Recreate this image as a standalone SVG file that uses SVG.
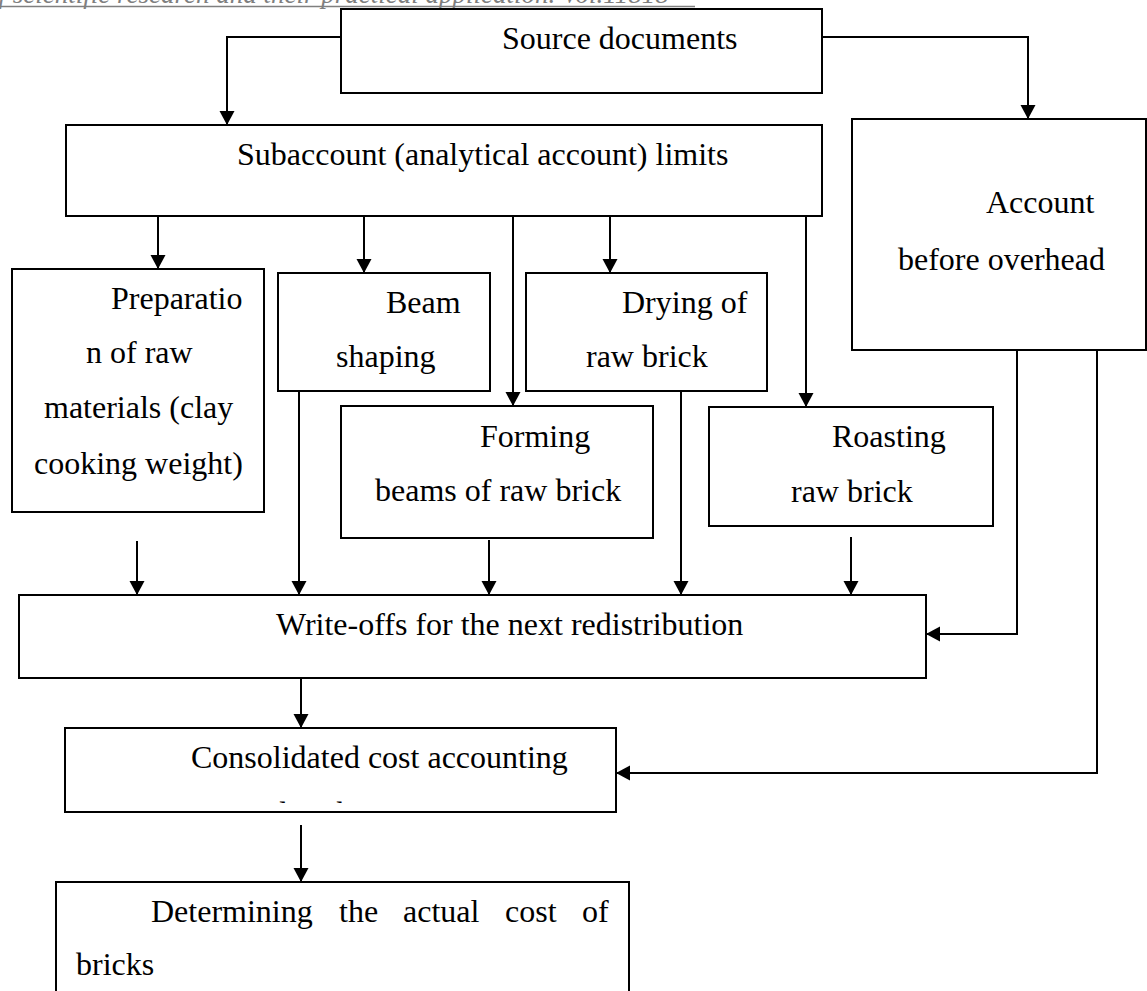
<svg xmlns="http://www.w3.org/2000/svg" width="1147" height="991" viewBox="0 0 1147 991">
<style>
.box{fill:#fff;stroke:#000;stroke-width:2}
.t{font-family:"Liberation Serif","Times New Roman",serif;font-size:32px;fill:#000}
.c{fill:none;stroke:#000;stroke-width:2}
.hdr{font-family:"Liberation Serif","Times New Roman",serif;font-style:italic;font-size:27px;fill:#7f7f7f}
</style>
<defs>
<marker id="ah" markerUnits="userSpaceOnUse" markerWidth="16" markerHeight="16" refX="14" refY="7.5" orient="auto">
<path d="M0,0 L14,7.5 L0,15 Z" fill="#000"/>
</marker>
<clipPath id="clipDist"><rect x="60" y="780" width="560" height="23"/></clipPath>
</defs>
<rect width="1147" height="991" fill="#fff"/>
<g id="header">
<text class="hdr" x="-15" y="3">of scientific research and their practical application. Vol.11818</text>
<line x1="0" y1="6.5" x2="695" y2="6.5" stroke="#7f7f7f" stroke-width="1.5"/>
</g>
<g id="connectors">
<path class="c" d="M341,37 H227 V125" marker-end="url(#ah)"/>
<path class="c" d="M822,37 H1028 V119" marker-end="url(#ah)"/>
<path class="c" d="M158,216 V269" marker-end="url(#ah)"/>
<path class="c" d="M364,216 V273" marker-end="url(#ah)"/>
<path class="c" d="M513,216 V406" marker-end="url(#ah)"/>
<path class="c" d="M610,216 V273" marker-end="url(#ah)"/>
<path class="c" d="M806,216 V407" marker-end="url(#ah)"/>
<path class="c" d="M137,541 V595" marker-end="url(#ah)"/>
<path class="c" d="M299,391 V595" marker-end="url(#ah)"/>
<path class="c" d="M489,540 V595" marker-end="url(#ah)"/>
<path class="c" d="M681,391 V595" marker-end="url(#ah)"/>
<path class="c" d="M851,537 V595" marker-end="url(#ah)"/>
<path class="c" d="M1017,350 V634 H926" marker-end="url(#ah)"/>
<path class="c" d="M1097,350 V773 H616" marker-end="url(#ah)"/>
<path class="c" d="M301,678 V728" marker-end="url(#ah)"/>
<path class="c" d="M301,825 V882" marker-end="url(#ah)"/>
</g>
<g id="source">
<rect class="box" x="341" y="9" width="481" height="84"/>
<text class="t" x="502" y="49">Source documents</text>
</g>
<g id="subaccount">
<rect class="box" x="66" y="125" width="756" height="91"/>
<text class="t" x="237" y="165">Subaccount (analytical account) limits</text>
</g>
<g id="account">
<rect class="box" x="852" y="119" width="294" height="231"/>
<text class="t" x="986" y="213">Account</text>
<text class="t" x="898" y="270">before overhead</text>
</g>
<g id="preparation">
<rect class="box" x="12" y="269" width="252" height="243"/>
<text class="t" x="111" y="309">Preparatio</text>
<text class="t" x="86" y="363">n of raw</text>
<text class="t" x="44" y="418">materials (clay</text>
<text class="t" x="34" y="474">cooking weight)</text>
</g>
<g id="beam">
<rect class="box" x="278" y="273" width="212" height="118"/>
<text class="t" x="386" y="313">Beam</text>
<text class="t" x="336" y="367">shaping</text>
</g>
<g id="drying">
<rect class="box" x="526" y="273" width="241" height="118"/>
<text class="t" x="622" y="313">Drying of</text>
<text class="t" x="586" y="367">raw brick</text>
</g>
<g id="forming">
<rect class="box" x="341" y="406" width="312" height="132"/>
<text class="t" x="480" y="447">Forming</text>
<text class="t" x="375" y="501">beams of raw brick</text>
</g>
<g id="roasting">
<rect class="box" x="709" y="407" width="284" height="119"/>
<text class="t" x="832" y="447">Roasting</text>
<text class="t" x="791" y="502">raw brick</text>
</g>
<g id="writeoffs">
<rect class="box" x="19" y="595" width="907" height="83"/>
<text class="t" x="276" y="635">Write-offs for the next redistribution</text>
</g>
<g id="consolidated">
<rect class="box" x="65" y="728" width="551" height="84"/>
<text class="t" x="191" y="768">Consolidated cost accounting</text>
<text class="t" x="271" y="824" clip-path="url(#clipDist)">distribution</text>
</g>
<g id="determining">
<rect class="box" x="56" y="882" width="573" height="130"/>
<text class="t" x="151" y="922">Determining</text>
<text class="t" x="339" y="922">the</text>
<text class="t" x="403" y="922">actual</text>
<text class="t" x="505" y="922">cost</text>
<text class="t" x="582" y="922">of</text>
<text class="t" x="76" y="975">bricks</text>
</g>
</svg>
